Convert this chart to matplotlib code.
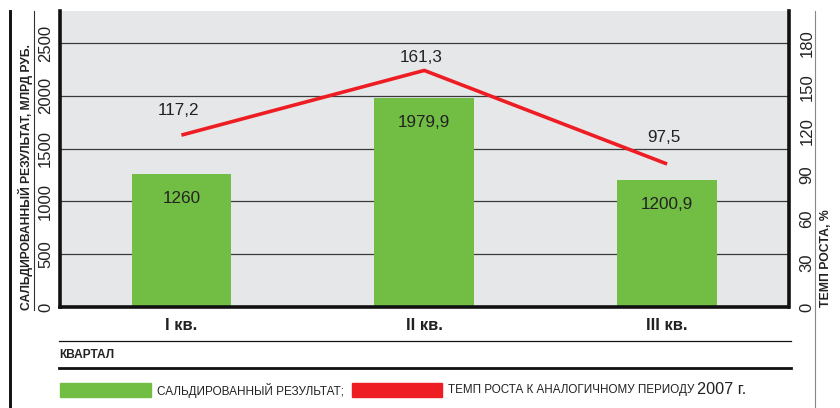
import matplotlib
matplotlib.use("Agg")
import matplotlib.pyplot as plt
from matplotlib.lines import Line2D
from matplotlib.patches import Rectangle

# данные
quarters = ["I кв.", "II кв.", "III кв."]
saldo = [1260, 1979.9, 1200.9]          # млрд руб.
growth = [117.2, 161.3, 97.5]           # %
left_ticks = [0, 500, 1000, 1500, 2000, 2500]
right_ticks = [0, 30, 60, 90, 120, 150, 180]

green = "#72BE44"
red = "#EE1D24"
bg = "#E6E7E8"

cond = ["Liberation Sans Narrow", "Liberation Sans", "DejaVu Sans"]
reg = ["Liberation Sans", "DejaVu Sans"]
plt.rcParams["font.family"] = reg

W, H = 840, 408
fig = plt.figure(figsize=(W / 100, H / 100), dpi=100)


# перевод пикселей (y сверху) в доли фигуры
def fx(px):
    return px / W


def fy(py):
    return 1 - py / H


ax = fig.add_axes([fx(60), fy(307), fx(788.5) - fx(60), fy(11) - fy(307)])
ax.set_facecolor(bg)
x = range(len(quarters))
ax.bar(x, saldo, width=0.41, color=green, zorder=2)
ax.set_xlim(-0.5, 2.5)
ax.set_ylim(0, 2500 * 296 / 264)
ax.set_yticks(left_ticks)
ax.set_yticklabels([str(t) for t in left_ticks], rotation=90, va="center",
                   fontsize=12, color="#222222")
ax.tick_params(axis="y", length=0, pad=5)
ax.set_xticks(list(x))
ax.set_xticklabels(quarters, family=cond, fontweight="bold", fontsize=12,
                   color="#222222")
ax.tick_params(axis="x", length=0, pad=8)
for v in left_ticks[1:]:
    ax.axhline(v, color="#3a3a3a", lw=0.9, zorder=1)

ax.spines["top"].set_visible(False)
for s in ["left", "right", "bottom"]:
    ax.spines[s].set_linewidth(2.6)
    ax.spines[s].set_color("#111111")

# подписи столбцов
for xi, v in zip(x, saldo):
    ax.annotate(f"{v:g}".replace(".", ","), (xi, v), xytext=(0, -17.5),
                textcoords="offset points", ha="center", va="center",
                fontsize=12.3, color="#222222", zorder=4)

# темп роста на правой оси
ax2 = ax.twinx()
ax2.set_ylim(0, 180 * 296 / 264)
ax2.plot(list(x), growth, color=red, lw=2.6, solid_capstyle="butt", zorder=3)
ax2.set_yticks(right_ticks)
ax2.set_yticklabels([str(t) for t in right_ticks], rotation=90, va="center",
                    fontsize=12, color="#222222")
ax2.tick_params(axis="y", length=0, pad=8)
for s in ax2.spines.values():
    s.set_visible(False)

label_offsets = [18, 9.5, 19]
for xi, v, off in zip(x, growth, label_offsets):
    ax2.annotate(f"{v:g}".replace(".", ","), (xi, v), xytext=(-2, off),
                 textcoords="offset points", ha="center", va="center",
                 fontsize=12.3, color="#222222")

# подписи осей
fig.text(fx(26), fy(310), "САЛЬДИРОВАННЫЙ РЕЗУЛЬТАТ, МЛРД РУБ.", rotation=90,
         ha="center", va="bottom", family=cond, fontweight="bold",
         fontsize=8.7, color="#222222")
fig.text(fx(826), fy(307), "ТЕМП РОСТА, %", rotation=90, ha="center",
         va="bottom", family=cond, fontweight="bold", fontsize=8.8,
         color="#222222")

# рамки и разделители
fig.add_artist(Line2D([fx(10), fx(10)], [fy(11), fy(408)], lw=2.1,
                      color="#111111"))
fig.add_artist(Line2D([fx(34), fx(34)], [fy(11), fy(310)], lw=0.8,
                      color="#333333"))
fig.add_artist(Line2D([fx(815), fx(815)], [fy(11), fy(408)], lw=0.8,
                      color="#888888"))
fig.add_artist(Line2D([fx(59), fx(791)], [fy(341), fy(341)], lw=0.9,
                      color="#111111"))
fig.add_artist(Line2D([fx(59), fx(791)], [fy(368), fy(368)], lw=2.0,
                      color="#111111"))

fig.text(fx(59), fy(355), "КВАРТАЛ", ha="left", va="center", family=cond,
         fontweight="bold", fontsize=8.6, color="#222222")

# легенда
fig.add_artist(Rectangle((fx(60), fy(397)), fx(151) - fx(60),
                         fy(383) - fy(397), color=green))
fig.text(fx(157), fy(390.5), "САЛЬДИРОВАННЫЙ РЕЗУЛЬТАТ;", ha="left",
         va="center", family=cond, fontsize=8.5, color="#222222")
fig.add_artist(Rectangle((fx(352), fy(397)), fx(442) - fx(352),
                         fy(383) - fy(397), color=red))
fig.text(fx(448), fy(390.5), "ТЕМП РОСТА К АНАЛОГИЧНОМУ ПЕРИОДУ", ha="left",
         va="center", family=cond, fontsize=8.35, color="#222222")
fig.text(fx(697), fy(390), "2007 г.", ha="left", va="center", family=reg,
         fontsize=11.7, color="#222222")

fig.savefig("out.png", dpi=100)
